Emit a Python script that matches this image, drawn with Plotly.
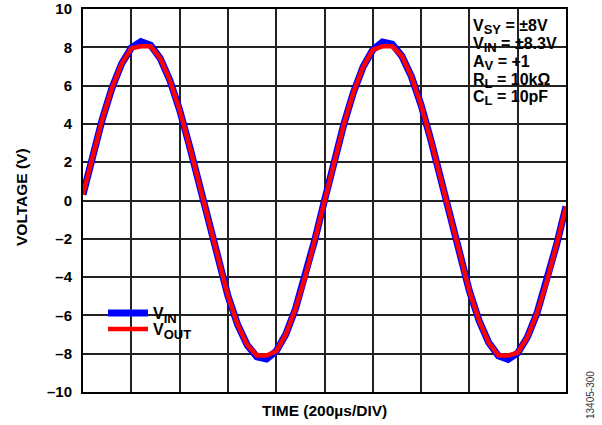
import plotly.graph_objects as go

# Sample times (µs), 40 µs apart over 10 divisions of 200 µs
time_us = list(range(0, 2001, 40))

# Input voltage (V)
v_in = [0.31, 2.35, 4.25, 5.88, 7.14, 7.97, 8.30, 8.11, 7.42, 6.27,
        4.73, 2.89, 0.88, -1.19, -3.18, -4.98, -6.47, -7.55, -8.17, -8.28,
        -7.87, -6.98, -5.65, -3.98, -2.05, 0.00, 2.05, 3.98, 5.65, 6.98,
        7.87, 8.28, 8.17, 7.55, 6.47, 4.98, 3.18, 1.19, -0.88, -2.89,
        -4.73, -6.27, -7.42, -8.11, -8.30, -7.97, -7.14, -5.88, -4.25, -2.35,
        -0.31]

# Output voltage (V) (clipped near the rails)
v_out = [0.31, 2.35, 4.25, 5.88, 7.14, 7.95, 8.05, 8.05, 7.42, 6.27,
         4.73, 2.89, 0.88, -1.19, -3.18, -4.98, -6.47, -7.55, -8.10, -8.10,
         -7.87, -6.98, -5.65, -3.98, -2.05, 0.00, 2.05, 3.98, 5.65, 6.98,
         7.87, 8.05, 8.05, 7.55, 6.47, 4.98, 3.18, 1.19, -0.88, -2.89,
         -4.73, -6.27, -7.42, -8.10, -8.10, -7.95, -7.14, -5.88, -4.25, -2.35,
         -0.31]

y_tickvals = [10, 8, 6, 4, 2, 0, -2, -4, -6, -8, -10]
y_ticktext = ["10", "8", "6", "4", "2", "0", "–2", "–4", "–6", "–8", "–10"]


def sub(s):
    return "<sub><span style='font-size:13px'>" + s + "</span></sub>"


conditions = ["V" + sub("SY") + " = ±8V", "V" + sub("IN") + " = ±8.3V", "A" + sub("V") + " = +1",
              "R" + sub("L") + " = 10kΩ", "C" + sub("L") + " = 10pF"]

FONT = "Arial, Liberation Sans, Helvetica, sans-serif"
L, T, W, H = 83, 9, 483, 383


def px(x):
    return (x - L) / W


def py(y):
    return (T + H - y) / H


fig = go.Figure()
fig.add_trace(go.Scatter(x=time_us, y=v_in, mode="lines", name="V" + sub("IN"),
                         line=dict(color="#0000ff", width=7), legend="legend"))
fig.add_trace(go.Scatter(x=time_us, y=v_out, mode="lines", name="V" + sub("OUT"),
                         line=dict(color="#ff0000", width=4.5), legend="legend2"))

leg_common = dict(xanchor="left", yanchor="middle", bgcolor="rgba(0,0,0,0)", borderwidth=0,
                  font=dict(family=FONT, size=16, color="black", weight="bold"),
                  itemwidth=40, tracegroupgap=0)

fig.update_layout(
    width=602, height=425,
    margin=dict(l=L, r=602 - L - W, t=T, b=425 - T - H, autoexpand=False),
    paper_bgcolor="white", plot_bgcolor="white",
    font=dict(family=FONT, size=15, color="black", weight="bold"),
    showlegend=True,
    legend=dict(x=px(103), y=py(313), **leg_common),
    legend2=dict(x=px(103), y=py(329), **leg_common),
    xaxis=dict(range=[0, 2000], dtick=200, tick0=0, showticklabels=False,
               showgrid=True, gridcolor="#222222", gridwidth=1.5,
               showline=True, linecolor="black", linewidth=2, mirror=True,
               zeroline=False, ticks="", automargin=False),
    yaxis=dict(range=[-10, 10], tickmode="array", tickvals=y_tickvals, ticktext=y_ticktext,
               showgrid=True, gridcolor="#222222", gridwidth=1.5,
               showline=True, linecolor="black", linewidth=2, mirror=True,
               zeroline=False, ticks="", ticklabelstandoff=6, automargin=False,
               tickfont=dict(family=FONT, size=15, color="black", weight="bold")),
)

# white boxes behind the conditions text and the legend (cover gridlines, under traces)
fig.add_shape(type="rect", xref="paper", yref="paper",
              x0=px(462), x1=1, y0=py(115), y1=1,
              fillcolor="white", line=dict(width=0), layer="between")
fig.add_shape(type="rect", xref="paper", yref="paper",
              x0=px(100), x1=px(198), y0=py(340), y1=py(293),
              fillcolor="white", line=dict(width=0), layer="between")

line_y = [27, 45, 63, 80.5, 98]
for txt, yy in zip(conditions, line_y):
    fig.add_annotation(xref="paper", yref="paper", x=px(471), y=py(yy),
                       xanchor="left", yanchor="middle", align="left", showarrow=False,
                       text=txt,
                       font=dict(family=FONT, size=16, color="black", weight="bold"))

fig.add_annotation(xref="paper", yref="paper", x=px(21), y=py(197),
                   xanchor="center", yanchor="middle", textangle=-90, showarrow=False,
                   text="VOLTAGE (V)",
                   font=dict(family=FONT, size=15.5, color="black", weight="bold"))

fig.add_annotation(xref="paper", yref="paper", x=0.5, y=py(411),
                   xanchor="center", yanchor="middle", showarrow=False,
                   text="TIME (200µs/DIV)",
                   font=dict(family=FONT, size=15.5, color="black", weight="bold"))

fig.add_annotation(xref="paper", yref="paper", x=px(590), y=py(395),
                   xanchor="center", yanchor="middle", textangle=-90, showarrow=False,
                   text="13405-300",
                   font=dict(family=FONT, size=10, color="#333333", weight="normal"))

fig.write_html("out.html", config={"displayModeBar": False})

# remove the default page margin so the figure sits at the window's top-left corner
with open("out.html", "r", encoding="utf-8") as f:
    html = f.read()
html = html.replace("<head>", "<head><style>html,body{margin:0;padding:0;overflow:hidden;}</style>", 1)
with open("out.html", "w", encoding="utf-8") as f:
    f.write(html)
